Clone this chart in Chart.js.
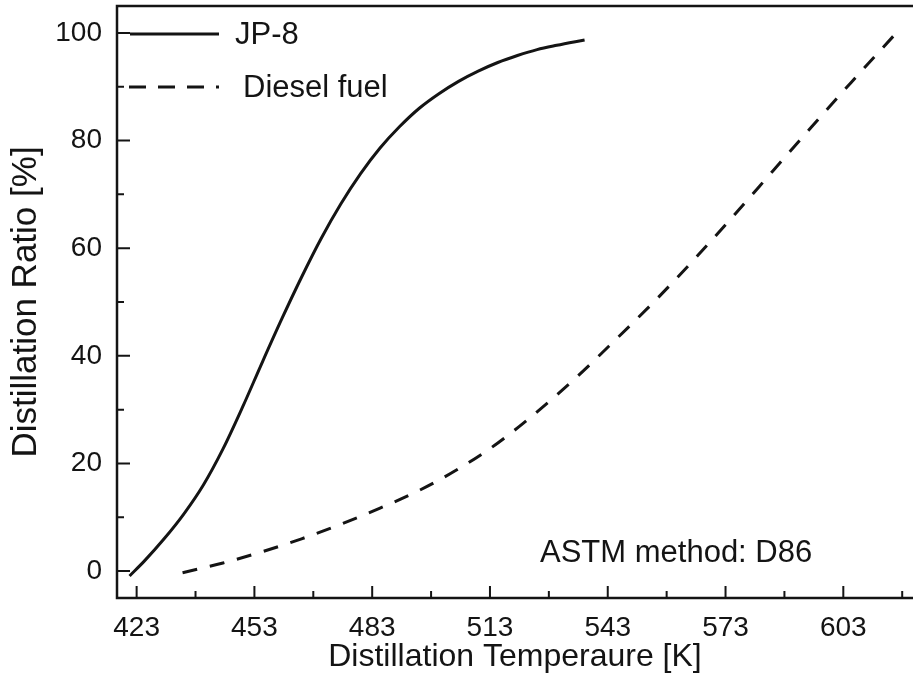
<!DOCTYPE html>
<html>
<head>
<meta charset="utf-8">
<script src="https://cdn.jsdelivr.net/npm/chart.js@4.4.1/dist/chart.umd.min.js"></script>
<style>
  html, body { margin: 0; padding: 0; background: #ffffff; }
  #wrap { width: 913px; height: 690px; position: relative; }
</style>
</head>
<body>
<div id="wrap"><canvas id="c" width="913" height="690"></canvas></div>
<script>
// ---- data ----
const jp8Temp   = [421.2, 425, 430, 435, 440, 445, 450, 455, 460, 465, 470, 475, 480, 485, 490, 495, 500, 505, 510, 515, 520, 525, 530, 537.1];
const jp8Ratio  = [-0.9, 1.9, 6.0, 10.6, 16.0, 22.7, 30.5, 38.8, 46.9, 54.6, 61.8, 68.2, 73.8, 78.6, 82.6, 86.0, 88.7, 91.0, 92.9, 94.5, 95.8, 96.9, 97.7, 98.7];
const dieselTemp  = [434.7, 445, 455, 465, 475, 485, 495, 505, 515, 525, 535, 545, 555, 565, 575, 585, 595, 605, 616.5];
const dieselRatio = [-0.3, 1.5, 3.6, 6.0, 8.7, 11.7, 15.0, 19.0, 23.8, 29.6, 36.0, 43.0, 50.2, 57.9, 66.0, 74.3, 82.6, 90.8, 100.0];

const xTicks = [423, 453, 483, 513, 543, 573, 603];
const xMinorTicks = [438, 468, 498, 528, 558, 588, 618];
const yTicks = [0, 20, 40, 60, 80, 100];
const yMinorTicks = [10, 30, 50, 70, 90];
const seriesNames = ['JP-8', 'Diesel fuel'];
const xTitle = 'Distillation Temperaure [K]';
const yTitle = 'Distillation Ratio [%]';
const noteText = 'ASTM method: D86';

const INK = '#141414';
const FONT = '"Liberation Sans", Arial, Helvetica, sans-serif';

const toPts = (xs, ys) => xs.map((x, i) => ({x: x, y: ys[i]}));

const framePlugin = {
  id: 'frame',
  afterDraw(chart) {
    const ctx = chart.ctx;
    const a = chart.chartArea;
    const xs = chart.scales.x, ys = chart.scales.y;
    ctx.save();
    ctx.strokeStyle = INK;
    ctx.lineCap = 'butt';
    // frame: left, bottom, top
    ctx.lineWidth = 2.5;
    ctx.beginPath();
    ctx.moveTo(a.left, a.top); ctx.lineTo(a.left, a.bottom);
    ctx.moveTo(a.left - 1.25, a.bottom); ctx.lineTo(a.right, a.bottom);
    ctx.moveTo(a.left - 1.25, a.top); ctx.lineTo(a.right, a.top);
    ctx.stroke();
    // inward ticks
    ctx.lineWidth = 2;
    ctx.beginPath();
    xTicks.forEach(v => { const p = xs.getPixelForValue(v); ctx.moveTo(p, a.bottom); ctx.lineTo(p, a.bottom - 12); });
    xMinorTicks.forEach(v => { const p = xs.getPixelForValue(v); ctx.moveTo(p, a.bottom); ctx.lineTo(p, a.bottom - 7); });
    yTicks.forEach(v => { const p = ys.getPixelForValue(v); ctx.moveTo(a.left, p); ctx.lineTo(a.left + 13, p); });
    yMinorTicks.forEach(v => { const p = ys.getPixelForValue(v); ctx.moveTo(a.left, p); ctx.lineTo(a.left + 7, p); });
    ctx.stroke();

    // legend (inside top-left)
    ctx.lineWidth = 3;
    ctx.beginPath();
    ctx.moveTo(a.left + 13, a.top + 28); ctx.lineTo(a.left + 102, a.top + 28);
    ctx.stroke();
    ctx.setLineDash([17, 12]);
    ctx.beginPath();
    ctx.moveTo(a.left + 12, a.top + 81); ctx.lineTo(a.left + 102, a.top + 81);
    ctx.stroke();
    ctx.setLineDash([]);
    ctx.fillStyle = INK;
    ctx.font = '31px ' + FONT;
    ctx.textAlign = 'left';
    ctx.textBaseline = 'middle';
    ctx.fillText(seriesNames[0], a.left + 118, a.top + 29);
    ctx.fillText(seriesNames[1], a.left + 126, a.top + 82);

    // annotation
    ctx.fillText(noteText, 540, 553);
    ctx.restore();
  }
};

new Chart(document.getElementById('c'), {
  type: 'scatter',
  data: {
    datasets: [
      {
        label: seriesNames[0],
        data: toPts(jp8Temp, jp8Ratio),
        showLine: true,
        borderColor: INK,
        borderWidth: 3,
        pointRadius: 0,
        cubicInterpolationMode: 'monotone',
        fill: false
      },
      {
        label: seriesNames[1],
        data: toPts(dieselTemp, dieselRatio),
        showLine: true,
        borderColor: INK,
        borderWidth: 3,
        borderDash: [15, 13],
        pointRadius: 0,
        cubicInterpolationMode: 'monotone',
        fill: false
      }
    ]
  },
  options: {
    responsive: false,
    animation: false,
    devicePixelRatio: 1,
    layout: { padding: { left: 0, right: 0, top: 6, bottom: 0 } },
    plugins: {
      legend: { display: false },
      tooltip: { enabled: false }
    },
    scales: {
      x: {
        type: 'linear',
        min: 418,
        max: 620.75,
        afterBuildTicks(scale) { scale.ticks = xTicks.map(v => ({value: v})); },
        afterFit(scale) { scale.height = 92; scale.paddingLeft = 0; scale.paddingRight = 0; },
        grid: { display: false, drawTicks: false },
        border: { display: false },
        ticks: {
          color: INK,
          font: { family: FONT, size: 28 },
          padding: 13,
          maxRotation: 0,
          autoSkip: false
        },
        title: {
          display: true,
          text: xTitle,
          color: INK,
          font: { family: FONT, size: 32 },
          padding: { top: 0, bottom: 14 }
        }
      },
      y: {
        type: 'linear',
        min: -5,
        max: 105,
        afterBuildTicks(scale) { scale.ticks = yTicks.map(v => ({value: v})); },
        afterFit(scale) { scale.width = 117; scale.paddingTop = 0; scale.paddingBottom = 0; },
        grid: { display: false, drawTicks: false },
        border: { display: false },
        ticks: {
          color: INK,
          font: { family: FONT, size: 28 },
          padding: 15,
          autoSkip: false
        },
        title: {
          display: true,
          text: yTitle,
          color: INK,
          font: { family: FONT, size: 35 },
          padding: { top: 5, bottom: 0 }
        }
      }
    }
  },
  plugins: [framePlugin]
});
</script>
</body>
</html>
